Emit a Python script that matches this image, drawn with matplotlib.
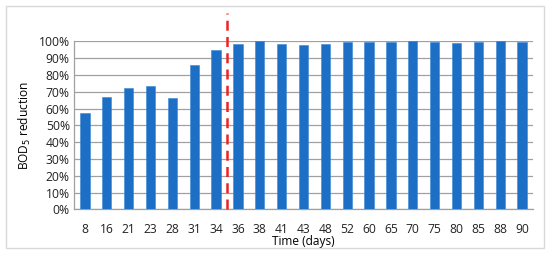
import matplotlib.pyplot as plt
from matplotlib.patches import Rectangle
from matplotlib.ticker import PercentFormatter

# BOD5 reduction per sampling day
days = ['8', '16', '21', '23', '28', '31', '34', '36', '38', '41', '43',
        '48', '52', '60', '65', '70', '75', '80', '85', '88', '90']
reduction = [57.1, 66.8, 72.0, 73.2, 66.0, 85.7, 95.0, 98.2, 100.0, 98.2, 97.6,
             98.2, 99.4, 99.4, 99.8, 100.0, 99.4, 99.0, 99.4, 100.0, 99.8]
yticks = list(range(0, 101, 10))

plt.rcParams['font.family'] = ['Open Sans', 'DejaVu Sans']

fig = plt.figure(figsize=(5.5, 2.54), dpi=100)
ax = fig.add_axes([74 / 550, 1 - 209.3 / 254, 459 / 550, 168 / 254])

x = list(range(len(days)))
ax.bar(x, reduction, width=0.43, color='#1c6fc4', edgecolor='#3a86d4',
       linewidth=0.4, zorder=3)

ax.set_xlim(-0.5, len(days) - 0.5)
ax.set_ylim(0, 100)
ax.set_yticks(yticks)
ax.yaxis.set_major_formatter(PercentFormatter(decimals=0))
ax.set_xticks(x)
ax.set_xticklabels(days)
ax.tick_params(axis='both', length=0, labelsize=8.7, colors='#222222')
ax.tick_params(axis='x', pad=10)
ax.tick_params(axis='y', pad=3)
ax.grid(axis='y', color='#a0a0a0', linewidth=0.9, zorder=0)

for side in ['top', 'right']:
    ax.spines[side].set_visible(False)
for side in ['left', 'bottom']:
    ax.spines[side].set_color('#a0a0a0')
    ax.spines[side].set_linewidth(0.9)

ax.set_ylabel('BOD$_5$ reduction', fontsize=8.6, labelpad=4)
ax.set_xlabel('Time (days)', fontsize=8.6, labelpad=-1)

# dashed line between day 34 and day 36
ax.plot([6.5, 6.5], [0, 117], color='#ee2222', linestyle=(0, (4, 2.5)),
        linewidth=1.8, clip_on=False, zorder=4)

# light frame around the chart
fig.patches.append(Rectangle((6 / 550, 6 / 254), 538 / 550, 242 / 254,
                             transform=fig.transFigure, fill=False,
                             edgecolor='#d9d9d9', linewidth=1))

fig.savefig('out.png', dpi=100)
